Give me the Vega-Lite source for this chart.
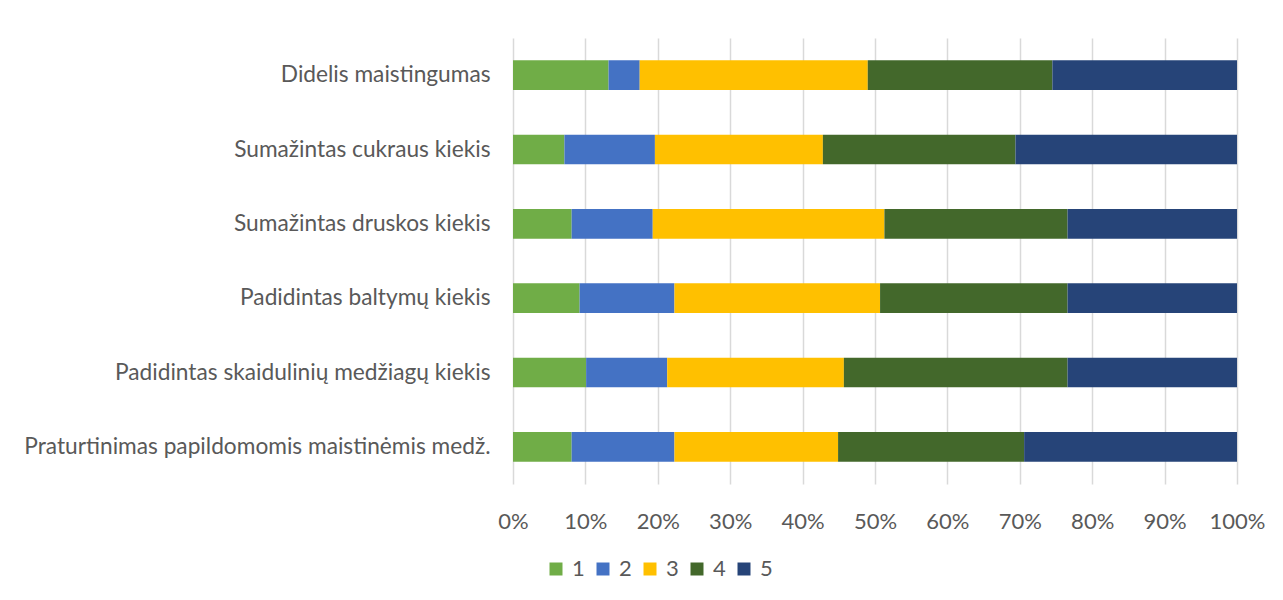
{
  "$schema": "https://vega.github.io/schema/vega-lite/v6.json",
  "autosize": "none",
  "width": 724,
  "height": 446,
  "padding": {"left": 513, "top": 38, "right": 46, "bottom": 116},
  "background": "white",
  "config": {
    "font": "Lato",
    "view": {"stroke": null}
  },
  "data": {
    "values": [
      {"item": "Didelis maistingumas", "score": "1", "share": 13.2},
      {"item": "Didelis maistingumas", "score": "2", "share": 4.3},
      {"item": "Didelis maistingumas", "score": "3", "share": 31.5},
      {"item": "Didelis maistingumas", "score": "4", "share": 25.5},
      {"item": "Didelis maistingumas", "score": "5", "share": 25.5},
      {"item": "Sumažintas cukraus kiekis", "score": "1", "share": 7.1},
      {"item": "Sumažintas cukraus kiekis", "score": "2", "share": 12.5},
      {"item": "Sumažintas cukraus kiekis", "score": "3", "share": 23.2},
      {"item": "Sumažintas cukraus kiekis", "score": "4", "share": 26.6},
      {"item": "Sumažintas cukraus kiekis", "score": "5", "share": 30.6},
      {"item": "Sumažintas druskos kiekis", "score": "1", "share": 8.1},
      {"item": "Sumažintas druskos kiekis", "score": "2", "share": 11.2},
      {"item": "Sumažintas druskos kiekis", "score": "3", "share": 32.0},
      {"item": "Sumažintas druskos kiekis", "score": "4", "share": 25.3},
      {"item": "Sumažintas druskos kiekis", "score": "5", "share": 23.4},
      {"item": "Padidintas baltymų kiekis", "score": "1", "share": 9.2},
      {"item": "Padidintas baltymų kiekis", "score": "2", "share": 13.1},
      {"item": "Padidintas baltymų kiekis", "score": "3", "share": 28.4},
      {"item": "Padidintas baltymų kiekis", "score": "4", "share": 25.9},
      {"item": "Padidintas baltymų kiekis", "score": "5", "share": 23.4},
      {"item": "Padidintas skaidulinių medžiagų kiekis", "score": "1", "share": 10.1},
      {"item": "Padidintas skaidulinių medžiagų kiekis", "score": "2", "share": 11.2},
      {"item": "Padidintas skaidulinių medžiagų kiekis", "score": "3", "share": 24.4},
      {"item": "Padidintas skaidulinių medžiagų kiekis", "score": "4", "share": 30.9},
      {"item": "Padidintas skaidulinių medžiagų kiekis", "score": "5", "share": 23.4},
      {"item": "Praturtinimas papildomomis maistinėmis medž.", "score": "1", "share": 8.1},
      {"item": "Praturtinimas papildomomis maistinėmis medž.", "score": "2", "share": 14.2},
      {"item": "Praturtinimas papildomomis maistinėmis medž.", "score": "3", "share": 22.6},
      {"item": "Praturtinimas papildomomis maistinėmis medž.", "score": "4", "share": 25.7},
      {"item": "Praturtinimas papildomomis maistinėmis medž.", "score": "5", "share": 29.4}
    ]
  },
  "mark": {"type": "bar"},
  "encoding": {
    "y": {
      "field": "item",
      "type": "nominal",
      "sort": null,
      "title": null,
      "scale": {"paddingInner": 0.6, "paddingOuter": 0.3},
      "axis": {
        "domain": false,
        "ticks": false,
        "labelFontSize": 22.7,
        "labelColor": "#595959",
        "labelPadding": 23,
        "labelLimit": 600
      }
    },
    "x": {
      "field": "share",
      "type": "quantitative",
      "stack": "normalize",
      "title": null,
      "scale": {"domain": [0, 1], "nice": false},
      "axis": {
        "format": ".0%",
        "values": [0, 0.1, 0.2, 0.3, 0.4, 0.5, 0.6, 0.7, 0.8, 0.9, 1],
        "domain": false,
        "ticks": false,
        "grid": true,
        "gridColor": "#d9d9d9",
        "gridWidth": 1.5,
        "labelFontSize": 22,
        "labelColor": "#595959",
        "labelPadding": 27,
        "labelFlush": false
      }
    },
    "color": {
      "field": "score",
      "type": "nominal",
      "scale": {
        "domain": ["1", "2", "3", "4", "5"],
        "range": ["#70ad47", "#4472c4", "#ffc000", "#43682b", "#264478"]
      },
      "legend": {
        "title": null,
        "orient": "none",
        "direction": "horizontal",
        "legendX": 32,
        "legendY": 520,
        "symbolType": "square",
        "symbolSize": 169,
        "symbolStrokeWidth": 0,
        "labelFontSize": 22,
        "labelColor": "#595959",
        "labelOffset": 5,
        "columnPadding": 7
      }
    },
    "order": {"field": "score", "type": "ordinal", "sort": "ascending"}
  }
}
